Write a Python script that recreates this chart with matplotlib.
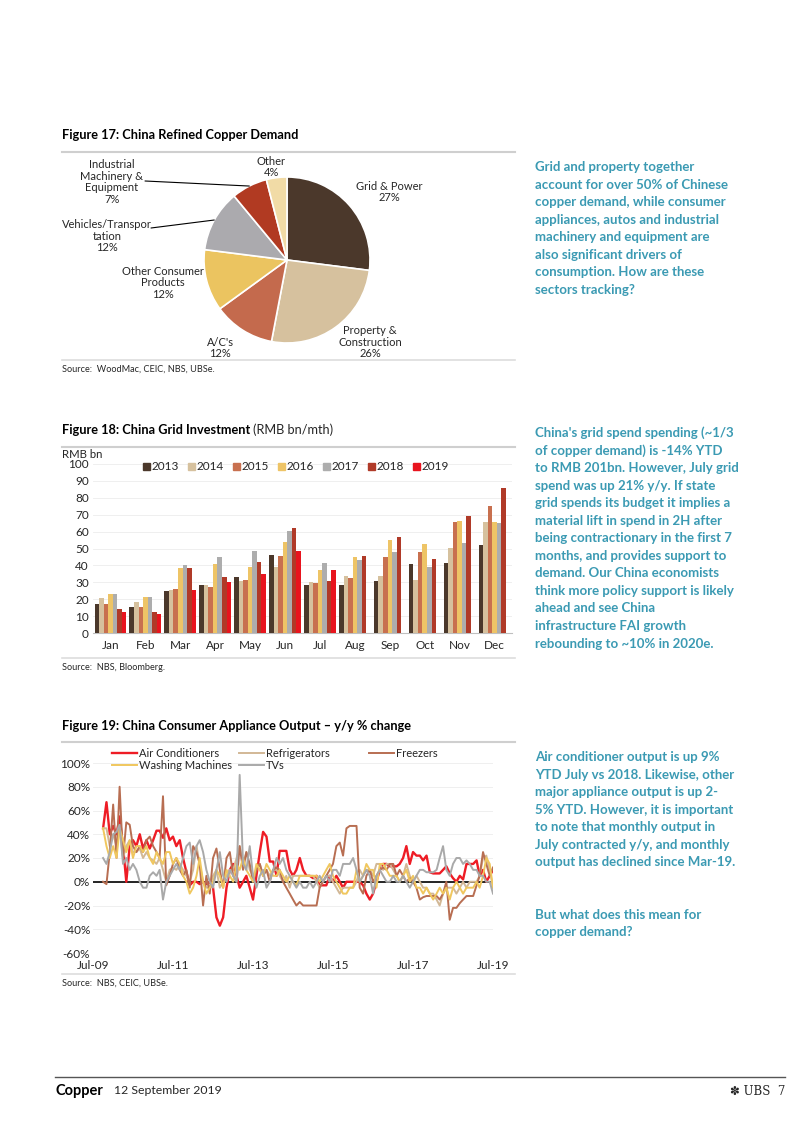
import numpy as np
import pandas as pd
import matplotlib
matplotlib.use("Agg")
import matplotlib.pyplot as plt
from matplotlib.lines import Line2D
from matplotlib.patches import Patch

plt.rcParams['font.family'] = ['Lato', 'DejaVu Sans']

# ---- Figure 17 data ----
pie_labels = ["Grid & Power\n27%", "Property &\nConstruction\n26%", "A/C's\n12%",
              "Other Consumer\nProducts\n12%", "Vehicles/Transpor\ntation\n12%",
              "Industrial\nMachinery &\nEquipment\n7%", "Other\n4%"]
pie_values = [27, 26, 12, 12, 12, 7, 4]
pie_colors = ["#4b382b", "#d6c19e", "#c46a4d", "#ebc460", "#abaaae", "#b13a22", "#f1dba6"]

# ---- Figure 18 data ----
months = ["Jan", "Feb", "Mar", "Apr", "May", "Jun", "Jul", "Aug", "Sep", "Oct", "Nov", "Dec"]
grid_years = ["2013", "2014", "2015", "2016", "2017", "2018", "2019"]
grid_2013 = [17, 15.2, 25, 28.2, 33.3, 46.4, 28.6, 28.6, 30.6, 40.8, 41.2, 51.9]
grid_2014 = [20.7, 18.3, 25.4, 28.4, 30.8, 38.9, 30.4, 33.5, 33.5, 31.6, 50.1, 65.9]
grid_2015 = [17, 15.2, 26, 27, 31.2, 45.6, 29.4, 32.5, 44.8, 47.9, 65.9, 75]
grid_2016 = [23, 21.3, 38.5, 41, 38.9, 54, 37.5, 45, 55.2, 52.9, 66.5, 65.9]
grid_2017 = [23, 21.3, 40.4, 45.2, 48.3, 60.2, 41.2, 43.4, 47.7, 39, 53.3, 65.1]
grid_2018 = [14, 12.4, 38.5, 33.3, 41.8, 62.1, 30.8, 45.4, 56.8, 43.8, 69.4, 86]
grid_2019 = [12.6, 11.2, 25.6, 30, 35.1, 48.5, 37.3]
grid_colors = ["#4b382b", "#d6c19e", "#c8704f", "#eec466", "#adadad", "#b03a28", "#e8141e"]

# ---- Figure 19 data (y/y %, Oct-09 .. Jul-19) ----
air_con = [45, 67, 40,
           47, 40, 55, 30, 0, 30, 35, 30, 40, 28, 35, 28,
           35, 43, 43, 37, 45, 35, 38, 30, 35, 20, 8, -3,
           0, 0, -2, 0, -2, 0, -5, -30, -37, -30, -5, 10,
           15, 5, -5, 0, 5, -5, -15, 5, 25, 42, 38, 17,
           17, 5, 26, 26, 26, 10, 5, 10, 20, 10, 5, 5,
           3, 5, -3, -3, -3, 5, 0, 5, 0, -5, 0, 0,
           0, 0, 0, -3, -10, -15, -10, 0, 10, 15, 15, 13,
           13, 13, 15, 20, 30, 15, 25, 22, 22, 18, 22, 8,
           7, 7, 7, 10, 13, 7, 3, 0, 5, 2, 15, 15,
           15, 18, 5, 10, 0, 5, 10]
fridges = [45, 45, 30,
           40, 30, 45, 20, 30, 35, 25, 25, 28, 20, 25, 20,
           18, 15, 20, 10, 0, 10, 12, 10, 15, 10, 5, 0,
           10, 30, 15, 0, -5, -5, 5, 10, -5, 0, 5, 10,
           10, 20, 30, 15, 25, 10, 5, 10, 15, 5, 10, 5,
           10, 10, 5, 0, 5, -5, 5, 5, 5, 5, 5, 5,
           5, 0, -5, 0, 5, 5, 0, -5, -10, -5, -5, -5,
           -5, 0, 10, 5, 10, 10, 5, 15, 15, 10, 15, 15,
           10, 5, 0, 5, 15, 5, 0, 5, 0, -5, -5, -10,
           -10, -15, -20, -10, -5, -5, -5, -10, -5, 0, -5, 0,
           0, 0, 5, 20, 22, 10, -5]
freezers = [0, -2, 25,
            65, 20, 80, 20, 50, 48, 30, 25, 30, 25, 35, 38,
            30, 25, 20, 72, -3, 5, 15, 20, 10, 5, 10, -5,
            30, 25, 15, -20, 5, -10, 20, 28, 10, -5, 20, 25,
            5, 0, 30, 10, 25, 15, 0, 10, 15, 5, 10, 0,
            10, 12, 10, 0, -5, -10, -15, -20, -17, -20, -20, -20,
            -20, -20, -5, 0, 5, 10, 15, 30, 33, 22, 45, 47,
            47, 47, -5, -10, 5, 10, 0, 5, 10, 12, 10, 15,
            15, 5, 10, 5, 0, 3, 0, -5, -15, -13, -12, -12,
            -12, -12, -15, -10, 0, -32, -22, -22, -18, -15, -12, -12,
            -12, -3, 5, 25, 15, 5, 12]
washers = [45, 30, 20,
           30, 20, 45, 35, 25, 35, 20, 30, 30, 25, 30, 20,
           15, 25, 20, 15, 25, 25, 15, 20, 15, 5, 0, -10,
           -5, 5, 20, 0, -10, -5, 0, 10, 5, -5, 10, 5,
           0, 15, 10, 20, 10, 5, 0, 15, 10, 5, 15, 10,
           5, 5, 10, 5, 0, 5, 0, -3, 5, 5, 5, 5,
           5, 5, 0, 5, 10, 15, 5, 0, -5, -10, -10, -5,
           -5, 10, 0, 5, 15, 10, 10, -5, 15, 15, 10, 5,
           5, 5, 0, 5, 10, 0, 5, -5, -5, -10, -5, -10,
           -15, -10, -5, -10, -5, -15, -5, 0, -5, -10, -5, -5,
           -5, 0, -5, 5, 20, 15, -5]
tvs = [20, 15, 25,
       40, 42, 48, 15, 20, 10, 15, 10, 0, -5, -5, 5,
       8, 5, 10, -15, 0, 5, 10, 15, 10, 20, 30, 33,
       15, 30, 35, 25, 10, 0, -5, 10, 25, 5, 0, 10,
       5, 0, 90, 15, 10, 30, 5, -5, 5, 10, -5, 0,
       10, 20, 15, 20, 10, 5, 0, -5, 0, -5, -5, 0,
       -5, 0, 5, 0, 5, 0, 10, 10, 5, 15, 15, 15,
       20, 10, 0, 5, 10, 5, -10, 5, 10, 5, 0, 0,
       5, 0, 0, 5, 0, -5, 0, 5, 10, 10, 8, 8,
       8, 10, 20, 30, 10, 5, 15, 20, 20, 15, 18, 15,
       10, 10, 5, 5, 0, 0, -10]
series_names = ["Air Conditioners", "Refrigerators", "Freezers", "Washing Machines", "TVs"]
series_colors = ["#ee1c25", "#d2b896", "#b86e52", "#f0c75e", "#a9a9a9"]
x_ticks = ["Jul-09", "Jul-11", "Jul-13", "Jul-15", "Jul-17", "Jul-19"]

TEAL = "#3b9ab3"
TXT = "#262626"
W, H = 802, 1133
fig = plt.figure(figsize=(W / 100, H / 100), dpi=100)


def px_axes(l, t, r, b):
    return fig.add_axes([l / W, 1 - b / H, (r - l) / W, (b - t) / H])


def ftext(x, y, s, **kw):
    kw.setdefault("va", "center")
    kw.setdefault("color", TXT)
    return fig.text(x / W, 1 - y / H, s, **kw)


def hline(x0, x1, y, color="#cfcfcf", lw=1.5):
    fig.add_artist(Line2D([x0 / W, x1 / W], [1 - y / H] * 2, transform=fig.transFigure,
                          color=color, lw=lw))


def text_right(t):
    fig.canvas.draw()
    return t.get_window_extent(renderer=fig.canvas.get_renderer()).x1


# ================= Figure 17 =================
ftext(62, 135, "Figure 17: China Refined Copper Demand", fontsize=9.2, fontweight="bold",
      color="black")
hline(62, 515, 152)
ax1 = px_axes(204, 177, 370, 343)
wedges, _ = ax1.pie(pie_values, colors=pie_colors, startangle=90, counterclock=False,
                    wedgeprops=dict(edgecolor="white", linewidth=1.2))
ax1.set_xlim(-1, 1)
ax1.set_ylim(-1, 1)
ax1.set_aspect("equal")

label_pos = [(389, 192), (370, 342), (220, 348), (163, 283), (107, 236), (112, 182), (271, 167)]
for lab, (lx, ly) in zip(pie_labels, label_pos):
    ftext(lx, ly, lab, fontsize=8, ha="center", linespacing=1.1)

# leader lines for the two labels sitting away from their wedge
for idx, (ex, ey) in [(5, (145, 181)), (4, (151, 228))]:
    w = wedges[idx]
    mid = np.deg2rad((w.theta1 + w.theta2) / 2)
    ax1.annotate("", xy=(np.cos(mid), np.sin(mid)), xytext=(ex, H - ey),
                 textcoords="figure pixels",
                 arrowprops=dict(arrowstyle="-", lw=0.8, color="black", shrinkA=0, shrinkB=0))

hline(62, 515, 360, color="#dddddd", lw=1.2)
ftext(62, 369, "Source:  WoodMac, CEIC, NBS, UBSe.", fontsize=6.6)

# ================= Figure 18 =================
t = ftext(62, 430, "Figure 18: China Grid Investment", fontsize=9.2, fontweight="bold",
          color="black")
fig.text(text_right(t) / W + 3 / W, 1 - 430 / H, "(RMB bn/mth)", fontsize=9.2, va="center",
         color=TXT)
hline(62, 515, 447)

ax2 = px_axes(93, 464, 512, 633)
xpos = np.arange(len(months))
bw = 0.13
all_grid = [grid_2013, grid_2014, grid_2015, grid_2016, grid_2017, grid_2018, grid_2019]
for i, (yr, vals, c) in enumerate(zip(grid_years, all_grid, grid_colors)):
    n = len(vals)
    ax2.bar(xpos[:n] + (i - 3) * bw, vals, width=bw, color=c, label=yr, zorder=3)
ax2.set_xlim(-0.5, 11.5)
ax2.set_ylim(0, 100)
ax2.set_yticks(range(0, 101, 10))
ax2.set_xticks(xpos)
ax2.set_xticklabels(months)
ax2.tick_params(length=0, labelsize=8.5, pad=5, labelcolor=TXT)
ax2.tick_params(axis="y", pad=3)
ax2.grid(axis="y", color="#ececec", lw=0.6, zorder=0)
for s in ["top", "right", "left"]:
    ax2.spines[s].set_visible(False)
ax2.spines["bottom"].set_color("#bfbfbf")
ftext(62, 455, "RMB bn", fontsize=8.2)
handles = [Patch(color=c) for c in grid_colors]
fig.legend(handles, grid_years, loc="center", bbox_to_anchor=(296 / W, 1 - 467 / H), ncol=7,
           frameon=False, fontsize=8.5, handlelength=0.6, handleheight=0.6, handletextpad=0.15,
           columnspacing=0.75, borderpad=0, labelcolor=TXT)
hline(62, 515, 658, color="#dddddd", lw=1.2)
ftext(62, 668, "Source:  NBS, Bloomberg.", fontsize=6.6)

# ================= Figure 19 =================
ftext(62, 726, "Figure 19: China Consumer Appliance Output \u2013 y/y % change",
      fontsize=9.2, fontweight="bold", color="black")
hline(62, 515, 742)

ax3 = px_axes(93, 763, 493, 953)
dates = pd.date_range("2009-10-01", periods=len(air_con), freq="MS")
all_series = [air_con, fridges, freezers, washers, tvs]
widths = [1.7, 1.4, 1.4, 1.4, 1.4]
lines = []
for name, vals, c, lw in zip(series_names, all_series, series_colors, widths):
    ln, = ax3.plot(dates, vals, color=c, lw=lw, label=name, zorder=3)
    lines.append(ln)
ax3.axhline(0, color="black", lw=1.2, zorder=2)
ax3.set_xlim(pd.Timestamp("2009-07-01"), pd.Timestamp("2019-07-01"))
ax3.set_ylim(-60, 100)
ax3.set_yticks(range(-60, 101, 20))
ax3.set_yticklabels([f"{v}%" for v in range(-60, 101, 20)])
tick_dates = [pd.Timestamp(f"20{lab[-2:]}-07-01") for lab in x_ticks]
ax3.set_xticks(tick_dates)
ax3.set_xticklabels(x_ticks)
ax3.tick_params(length=0, labelsize=8.5, labelcolor=TXT)
ax3.tick_params(axis="y", pad=2)
ax3.tick_params(axis="x", pad=5)
ax3.grid(axis="y", color="#ececec", lw=0.6, zorder=0)
for s in ax3.spines.values():
    s.set_visible(False)
# legend laid out as three equal-width columns, like the original
for col, (lx, idxs) in enumerate([(106, [0, 3]), (233, [1, 4]), (363, [2])]):
    fig.legend([lines[i] for i in idxs], [series_names[i] for i in idxs],
               loc="upper left", bbox_to_anchor=(lx / W, 1 - 742 / H), ncol=1, frameon=False,
               fontsize=8, handlelength=2.3, handletextpad=0.2,
               labelspacing=0.12, borderpad=0, labelcolor=TXT)
hline(62, 515, 974, color="#dddddd", lw=1.2)
ftext(62, 983, "Source:  NBS, CEIC, UBSe.", fontsize=6.6)

# ================= side commentary =================
block1 = ["Grid and property together", "account for over 50% of Chinese",
          "copper demand, while consumer", "appliances, autos and industrial",
          "machinery and equipment are", "also significant drivers of",
          "consumption. How are these", "sectors tracking?"]
block2 = ["China's grid spend spending (~1/3", "of copper demand) is -14% YTD",
          "to RMB 201bn. However, July grid", "spend was up 21% y/y. If state",
          "grid spends its budget it implies a", "material lift in spend in 2H after",
          "being contractionary in the first 7", "months, and provides support to",
          "demand. Our China economists", "think more policy support is likely",
          "ahead and see China", "infrastructure FAI growth", "rebounding to ~10% in 2020e."]
block3 = ["Air conditioner output is up 9%", "YTD July vs 2018. Likewise, other",
          "major appliance output is up 2-", "5% YTD. However, it is important",
          "to note that monthly output in", "July contracted y/y, and monthly",
          "output has declined since Mar-19.", "", "", "But what does this mean for",
          "copper demand?"]
for y0, block in [(167, block1), (433, block2), (757, block3)]:
    for i, line in enumerate(block):
        ftext(535, y0 + i * 17.55, line, fontsize=9.5, fontweight="bold", color=TEAL)

# ================= footer =================
hline(55, 785, 1077, color="#555555", lw=1.0)
t = ftext(55, 1091, "Copper", fontsize=10.5, fontweight="bold", color="black")
fig.text(text_right(t) / W + 11 / W, 1 - 1091 / H, "12 September 2019", fontsize=8.8,
         va="center", color=TXT)
ftext(785, 1091, "\u273d UBS  7", fontsize=8.5, ha="right", family=["DejaVu Serif", "DejaVu Sans"])

fig.savefig("out.png", dpi=100)
